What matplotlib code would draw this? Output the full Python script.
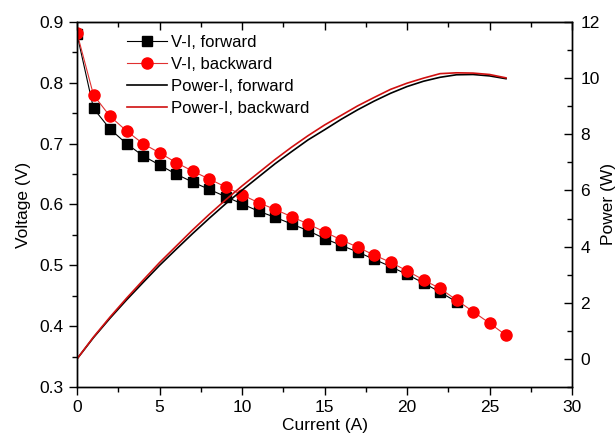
import matplotlib
matplotlib.use('Agg')
import matplotlib.pyplot as plt
from matplotlib.ticker import MultipleLocator
import numpy as np

plt.rcParams['font.family'] = ['Liberation Sans', 'DejaVu Sans']
plt.rcParams['font.size'] = 12.5

# current (A)
current_f = list(range(0, 24))
current_b = list(range(0, 27))

# voltage (V)
v_forward = [0.880, 0.758, 0.724, 0.700, 0.680, 0.665, 0.650, 0.637, 0.625, 0.613,
             0.601, 0.589, 0.579, 0.568, 0.557, 0.544, 0.533, 0.522, 0.510, 0.498,
             0.485, 0.471, 0.456, 0.440]
v_backward = [0.882, 0.780, 0.745, 0.721, 0.700, 0.685, 0.669, 0.655, 0.642, 0.629,
              0.616, 0.603, 0.592, 0.580, 0.568, 0.555, 0.542, 0.530, 0.517, 0.505,
              0.491, 0.476, 0.462, 0.443, 0.424, 0.405, 0.385]

# power (W)
p_forward = [0.00, 0.76, 1.45, 2.10, 2.72, 3.33, 3.90, 4.46, 5.00, 5.52,
             6.01, 6.48, 6.95, 7.38, 7.80, 8.16, 8.53, 8.87, 9.18, 9.46,
             9.70, 9.89, 10.03, 10.12, 10.13, 10.08, 9.98]
p_backward = [0.00, 0.78, 1.49, 2.16, 2.80, 3.43, 4.01, 4.59, 5.14, 5.66,
              6.16, 6.63, 7.10, 7.54, 7.95, 8.33, 8.67, 9.01, 9.31, 9.60,
              9.82, 10.00, 10.16, 10.19, 10.18, 10.13, 10.01]

fig = plt.figure(figsize=(6.16, 4.46), dpi=100)
ax = fig.add_axes([0.125, 0.1323, 0.8036, 0.8184])
ax2 = ax.twinx()

l1, = ax.plot(current_f, v_forward, color='black', lw=0.8, marker='s', ms=7.5,
              mfc='black', mec='black', label='V-I, forward')
l2, = ax.plot(current_b, v_backward, color='#e03030', lw=0.8, marker='o', ms=8,
              mfc='red', mec='red', label='V-I, backward')
l3, = ax2.plot(current_b, p_forward, color='black', lw=1.2, label='Power-I, forward')
l4, = ax2.plot(current_b, p_backward, color='#d01010', lw=1.2, label='Power-I, backward')

ax.set_xlim(0, 30)
ax.set_ylim(0.3, 0.9)
ax2.set_ylim(-1, 12)
ax.set_xticks(np.arange(0, 31, 5))
ax.xaxis.set_minor_locator(MultipleLocator(2.5))
ax.set_yticks(np.arange(0.3, 0.91, 0.1))
ax.yaxis.set_minor_locator(MultipleLocator(0.05))
ax2.set_yticks(np.arange(0, 13, 2))
ax2.yaxis.set_minor_locator(MultipleLocator(1))

ax.tick_params(which='major', direction='out', length=6, width=1)
ax.tick_params(which='minor', direction='out', length=3.5, width=1)
ax2.tick_params(which='major', direction='in', length=6, width=1, pad=6)
ax2.tick_params(which='minor', direction='in', length=3.5, width=1)

top = ax.secondary_xaxis('top')
top.set_xticks(np.arange(0, 31, 5))
top.xaxis.set_minor_locator(MultipleLocator(2.5))
top.tick_params(which='major', direction='in', length=6, width=1, labeltop=False)
top.tick_params(which='minor', direction='in', length=3.5, width=1)

for a in (ax, ax2):
    for s in a.spines.values():
        s.set_linewidth(1.0)

ax.set_xlabel('Current (A)', labelpad=2)
ax.set_ylabel('Voltage (V)', labelpad=6)
ax2.set_ylabel('Power (W)', labelpad=1)

ax2.legend(handles=[l1, l2, l3, l4], loc='upper left', bbox_to_anchor=(0.075, 1.0),
           frameon=False, fontsize=12, handlelength=2.4, labelspacing=0.42,
           handletextpad=0.2, borderpad=0.3)

fig.savefig('out.png', dpi=100)
